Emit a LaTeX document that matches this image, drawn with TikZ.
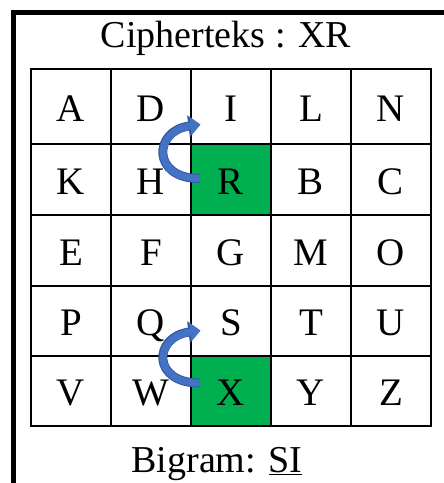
\documentclass[tikz,border=0pt]{standalone}
\usepackage{fontspec}
\setmainfont{Liberation Serif}
\usetikzlibrary{arrows.meta,calc}
\definecolor{cellgreen}{RGB}{0,176,80}
\definecolor{arrowblue}{RGB}{68,114,196}
\definecolor{arrowedge}{RGB}{52,90,160}

\begin{document}
\begin{tikzpicture}[x=1pt,y=-1pt,
  cell/.style={draw=black, line width=1.2pt, minimum width=80pt, inner sep=0pt,
               text height=29pt, text depth=0pt, font=\fontsize{39}{41}\selectfont},
  swapedge/.style={line width=9pt, draw=arrowedge,
                   -{Triangle[length=12pt,width=21pt]}},
  swaparrow/.style={line width=7pt, draw=arrowblue,
                    -{Triangle[length=10pt,width=18pt]}},
  caption/.style={font=\fontsize{38}{40}\selectfont, inner sep=0pt, anchor=base}]
\useasboundingbox (0,0) rectangle (444,483);

% frame (left and top edges only)
\draw[line width=5pt] (13.5,483) -- (13.5,12) -- (444,12);

% highlighted cells
\fill[cellgreen] (191,144) rectangle (271,215);
\fill[cellgreen] (191,356) rectangle (271,426);

% 5x5 key square
\foreach \l [count=\c] in {A,D,I,L,N}
  \node[cell, minimum height=75pt] (c-1-\c) at (80*\c-9,106.5) {\l};
\foreach \l [count=\c] in {K,H,R,B,C}
  \node[cell, minimum height=71pt] (c-2-\c) at (80*\c-9,179.5) {\l};
\foreach \l [count=\c] in {E,F,G,M,O}
  \node[cell, minimum height=71pt] (c-3-\c) at (80*\c-9,250.5) {\l};
\foreach \l [count=\c] in {P,Q,S,T,U}
  \node[cell, minimum height=70pt] (c-4-\c) at (80*\c-9,321) {\l};
\foreach \l [count=\c] in {V,W,X,Y,Z}
  \node[cell, minimum height=70pt] (c-5-\c) at (80*\c-9,391) {\l};

% captions
\node[caption] (title) at (226,47) {Cipherteks : XR};
\node[caption] (bigram) at (217,472) {Bigram: \underline{SI}};

% curved arrows from the cipher letters up to the plain letters
\foreach \style in {swapedge,swaparrow} {
  \draw[\style] ($(c-2-3.west)+(9,-1)$)
    .. controls ($(c-2-3.west)+(-39,-1)$) and ($(c-1-3.south west)+(-37,-14)$)
    .. ($(c-1-3.south west)+(10,-20)$);
  \draw[\style] ($(c-5-3.west)+(9,-8)$)
    .. controls ($(c-5-3.west)+(-39,-8)$) and ($(c-4-3.south west)+(-37,-20)$)
    .. ($(c-4-3.south west)+(10,-26)$);
}
\end{tikzpicture}
\end{document}
